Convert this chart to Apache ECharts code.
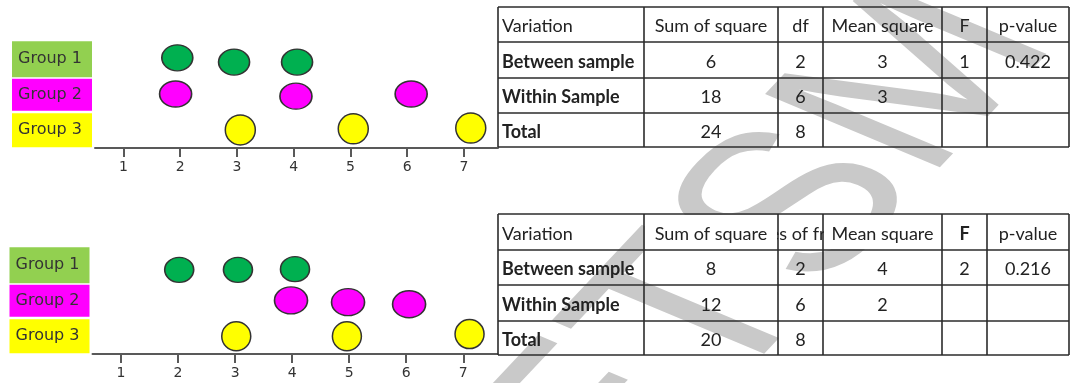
<!DOCTYPE html>
<html>
<head>
<meta charset="utf-8">
<script src="https://cdn.jsdelivr.net/npm/echarts@6/dist/echarts.min.js"></script>
<style>
  html, body { margin: 0; padding: 0; background: #fff; }
  #main { width: 1073px; height: 383px; }
</style>
</head>
<body>
<div id="main"></div>
<script>
// axis ticks and group names
let xTicks = [1, 2, 3, 4, 5, 6, 7];
let groupNames = ['Group 1', 'Group 2', 'Group 3'];

// dots: [x, row]  row 3 = Group 1, 2 = Group 2, 1 = Group 3
let top1 = [[1.95, 3.04], [2.95, 2.92], [4.06, 2.92]];
let top2 = [[1.92, 2.02], [4.04, 1.96], [6.07, 2.02]];
let top3 = [[3.06, 1.01], [5.05, 1.04], [7.12, 1.06]];
let bot1 = [[2.02, 2.87], [3.05, 2.87], [4.05, 2.89]];
let bot2 = [[3.98, 2.01], [4.98, 1.96], [6.05, 1.90]];
let bot3 = [[3.02, 1.00], [4.96, 1.00], [7.11, 1.06]];

// anova tables
let headTop = ['Variation', 'Sum of square', 'df', 'Mean square', 'F', 'p-value'];
let headBot = ['Variation', 'Sum of square', 'Degrees of freedom', 'Mean square', 'F', 'p-value'];
let rowNames = ['Between sample', 'Within Sample', 'Total'];
let ssTop = ['6', '18', '24'];
let dfTop = ['2', '6', '8'];
let msTop = ['3', '3', ''];
let fTop = ['1', '', ''];
let pTop = ['0.422', '', ''];
let ssBot = ['8', '12', '20'];
let dfBot = ['2', '6', '8'];
let msBot = ['4', '2', ''];
let fBot = ['2', '', ''];
let pBot = ['0.216', '', ''];

let groupColors = ['#92D050', '#FF00FF', '#FFFF00'];
let dotColors = ['#00B050', '#FF00FF', '#FFFF00'];

let colX = [498, 644, 778, 823, 942, 987, 1069];
let rowsTop = [7, 42, 78, 113, 147];
let rowsBot = [214, 250, 285, 321, 355];

function tableParts(rowY, head, cols, spillCol, boldHead) {
      let els = [];
      for (let r = 0; r < 4; r++) {
            for (let c = 0; c < 6; c++) {
                  let txt = r == 0 ? head[c] : (c == 0 ? rowNames[r - 1] : cols[c - 1][r - 1]);
                  let x0 = colX[c], x1 = colX[c + 1];
                  let yc = (rowY[r] + rowY[r + 1]) / 2 + 2;
                  let spill = (r == 0 && c == spillCol);
                  if (r == 0 && spillCol >= 0 && Math.abs(c - spillCol) == 1) {
                        // white cells hide the text that runs out of the narrow column
                        els.push({
                              type: 'rect', z: 1,
                              shape: { x: x0 + 1, y: rowY[r] + 1, width: x1 - x0 - 2, height: rowY[r + 1] - rowY[r] - 2 },
                              style: { fill: '#fff' }
                        });
                  }
                  if (!txt) continue;
                  els.push({
                        type: 'text', z: spill ? 0 : 4,
                        x: c == 0 ? x0 + 4 : (x0 + x1) / 2,
                        y: yc,
                        style: {
                              text: txt,
                              fontFamily: 'Lato',
                              fontSize: 18,
                              fontWeight: (c == 0 && r > 0) || (r == 0 && boldHead[c]) ? 'bold' : 'normal',
                              fill: '#222',
                              align: c == 0 ? 'left' : 'center',
                              verticalAlign: 'middle'
                        }
                  });
            }
      }
      for (let i = 0; i < colX.length; i++) {
            els.push({
                  type: 'line', z: 4,
                  shape: { x1: colX[i], y1: rowY[0], x2: colX[i], y2: rowY[4] },
                  style: { stroke: '#2b2b2b', lineWidth: 1.6 }
            });
      }
      for (let j = 0; j < rowY.length; j++) {
            els.push({
                  type: 'line', z: 4,
                  shape: { x1: colX[0], y1: rowY[j], x2: colX[6], y2: rowY[j] },
                  style: { stroke: '#2b2b2b', lineWidth: 1.6 }
            });
      }
      return els;
}

let rich = {};
for (let i = 0; i < 3; i++) {
      rich['g' + i] = {
            backgroundColor: groupColors[i],
            width: 74,
            height: i == 0 ? 36 : (i == 1 ? 32 : 34),
            padding: [0, 0, 0, 6],
            fontFamily: 'DejaVu Sans',
            fontSize: 16,
            color: '#333',
            align: 'left'
      };
}

function xAxisOf(idx) {
      return {
            type: 'value', gridIndex: idx, min: 0.5, max: 7.6,
            splitLine: { show: false },
            axisLine: { onZero: false, lineStyle: { color: '#595959', width: 2 } },
            axisTick: { customValues: xTicks, length: 9, lineStyle: { color: '#595959', width: 2 } },
            axisLabel: { customValues: xTicks, fontFamily: 'DejaVu Sans', fontSize: 14, color: '#333', margin: 12 }
      };
}

function yAxisOf(idx) {
      return {
            type: 'value', gridIndex: idx, min: 0.5, max: 3.5,
            splitLine: { show: false },
            axisLine: { show: false },
            axisTick: { show: false },
            axisLabel: {
                  customValues: [1, 2, 3],
                  margin: 3,
                  formatter: function (v) {
                        let i = 3 - v;
                        return '{g' + i + '|' + groupNames[i] + '}';
                  },
                  rich: rich
            }
      };
}

function dots(data, g, grid, size) {
      return {
            type: 'scatter', xAxisIndex: grid, yAxisIndex: grid,
            data: data, symbol: 'circle', symbolSize: size,
            itemStyle: { color: dotColors[g], borderColor: '#333', borderWidth: 1.5, opacity: 1 },
            emphasis: { disabled: true },
            silent: true, animation: false
      };
}

let chart = echarts.init(document.getElementById('main'));

let graphics = [{
      type: 'group', x: 768, y: 246, scaleX: 1.5, z: 2,
      children: [{
            type: 'text', rotation: 1.01,
            style: {
                  text: 'ETSM', x: 0, y: 0,
                  fontFamily: 'Liberation Sans', fontSize: 200,
                  fill: '#c9c9c9', align: 'center', verticalAlign: 'middle'
            }
      }]
}];
graphics = graphics.concat(tableParts(rowsTop, headTop, [ssTop, dfTop, msTop, fTop, pTop], -1, [0, 0, 0, 0, 0, 0]));
graphics = graphics.concat(tableParts(rowsBot, headBot, [ssBot, dfBot, msBot, fBot, pBot], 2, [0, 0, 0, 0, 1, 0]));

let option = {
      backgroundColor: '#fff',
      animation: false,
      grid: [
            { left: 95, top: 41.5, width: 403, height: 106.5 },
            { left: 92.5, top: 247.5, width: 405, height: 106.5 }
      ],
      xAxis: [xAxisOf(0), xAxisOf(1)],
      yAxis: [yAxisOf(0), yAxisOf(1)],
      series: [
            dots(top1, 0, 0, [31, 26]),
            dots(top2, 1, 0, [32, 26]),
            dots(top3, 2, 0, [30, 30]),
            dots(bot1, 0, 1, [29, 25]),
            dots(bot2, 1, 1, [33, 27]),
            dots(bot3, 2, 1, [29, 29])
      ],
      graphic: graphics
};
chart.setOption(option);
</script>
</body>
</html>
